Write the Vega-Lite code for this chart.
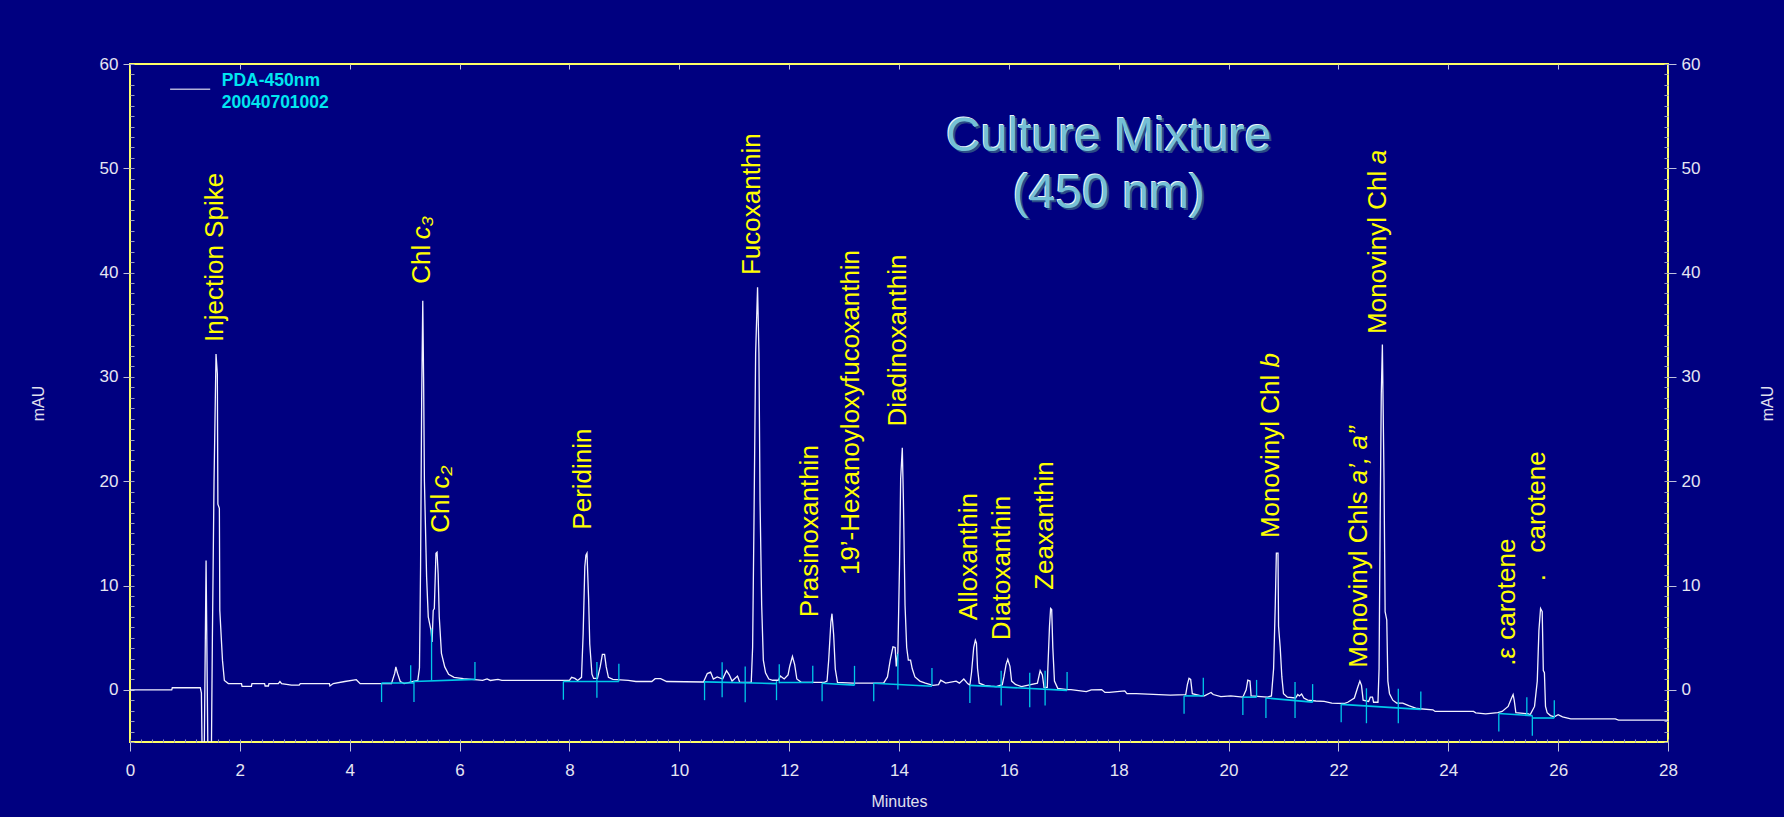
{
  "$schema": "https://vega.github.io/schema/vega-lite/v6.json",
  "width": 1538,
  "height": 678,
  "autosize": {"type": "none"},
  "padding": {"left": 130, "top": 64, "right": 116, "bottom": 75},
  "background": "#000080",
  "config": {
    "view": {"stroke": "#FFFF66", "strokeWidth": 2},
    "axis": {"grid": false, "domain": false, "labelFont": "Liberation Sans", "labelFontSize": 17, "labelColor": "#E6E6F2", "labelFlush": false, "tickColor": "#BFC0DC", "tickWidth": 1, "titleFont": "Liberation Sans", "titleFontSize": 16, "titleFontWeight": "normal", "titleColor": "#E0E0EE"},
    "text": {"font": "Liberation Sans"}
  },
  "datasets": {
    "trace": [
      {"min":0,"mAU":0},{"min":0.76,"mAU":0},{"min":0.77,"mAU":0.2},{"min":1.28,"mAU":0.2},{"min":1.3,"mAU":-0.3},{"min":1.315,"mAU":-7},{"min":1.35,"mAU":-7},{"min":1.385,"mAU":12.4},{"min":1.42,"mAU":-7},{"min":1.48,"mAU":-7},{"min":1.5,"mAU":5},{"min":1.53,"mAU":20},{"min":1.566,"mAU":32.2},{"min":1.59,"mAU":30.3},{"min":1.6,"mAU":17.8},{"min":1.627,"mAU":17.4},{"min":1.635,"mAU":7.6},{"min":1.684,"mAU":2.8},{"min":1.718,"mAU":0.9},{"min":1.79,"mAU":0.6},
      {"min":2.03,"mAU":0.6},{"min":2.04,"mAU":0.33},{"min":2.21,"mAU":0.33},{"min":2.22,"mAU":0.6},{"min":2.45,"mAU":0.6},{"min":2.46,"mAU":0.37},{"min":2.52,"mAU":0.37},{"min":2.53,"mAU":0.6},{"min":2.7,"mAU":0.6},{"min":2.73,"mAU":0.8},{"min":2.76,"mAU":0.6},{"min":2.94,"mAU":0.45},{"min":3.08,"mAU":0.45},{"min":3.1,"mAU":0.6},{"min":3.36,"mAU":0.6},{"min":3.63,"mAU":0.6},{"min":3.64,"mAU":0.37},{"min":3.7,"mAU":0.6},{"min":3.91,"mAU":0.8},{"min":4.12,"mAU":0.97},{"min":4.19,"mAU":0.6},{"min":4.76,"mAU":0.6},{"min":4.82,"mAU":1.6},{"min":4.84,"mAU":2.2},{"min":4.87,"mAU":1.6},{"min":4.92,"mAU":0.8},{"min":4.99,"mAU":0.6},
      {"min":5.24,"mAU":0.9},{"min":5.27,"mAU":2.1},{"min":5.29,"mAU":11.8},{"min":5.31,"mAU":27.8},{"min":5.33,"mAU":37.3},{"min":5.345,"mAU":30},{"min":5.36,"mAU":20},{"min":5.4,"mAU":10.8},{"min":5.43,"mAU":7},{"min":5.48,"mAU":5.7},{"min":5.5,"mAU":4.6},{"min":5.52,"mAU":7.6},{"min":5.54,"mAU":7.8},{"min":5.57,"mAU":13.1},{"min":5.59,"mAU":13.2},{"min":5.61,"mAU":11.1},{"min":5.63,"mAU":7},{"min":5.67,"mAU":3.5},{"min":5.73,"mAU":2.2},{"min":5.8,"mAU":1.5},{"min":5.9,"mAU":1.2},{"min":6.07,"mAU":1.07},{"min":6.42,"mAU":0.9},{"min":6.5,"mAU":1.05},{"min":6.56,"mAU":0.9},{"min":6.7,"mAU":1},{"min":6.77,"mAU":0.9},
      {"min":8,"mAU":0.9},{"min":8.04,"mAU":1.2},{"min":8.1,"mAU":1.1},{"min":8.15,"mAU":0.9},{"min":8.22,"mAU":1.2},{"min":8.25,"mAU":5.4},{"min":8.28,"mAU":11.8},{"min":8.3,"mAU":12.9},{"min":8.32,"mAU":13.1},{"min":8.35,"mAU":8.6},{"min":8.37,"mAU":4.4},{"min":8.41,"mAU":1.5},{"min":8.44,"mAU":1.1},{"min":8.51,"mAU":1.1},{"min":8.56,"mAU":2.2},{"min":8.6,"mAU":3.4},{"min":8.64,"mAU":3.4},{"min":8.67,"mAU":2.2},{"min":8.71,"mAU":1.2},{"min":8.79,"mAU":1},{"min":9.07,"mAU":0.9},{"min":9.21,"mAU":0.8},{"min":9.5,"mAU":0.8},{"min":9.56,"mAU":1.07},{"min":9.66,"mAU":1.07},{"min":9.77,"mAU":0.8},
      {"min":10.44,"mAU":0.75},{"min":10.51,"mAU":1.56},{"min":10.57,"mAU":1.7},{"min":10.62,"mAU":1.04},{"min":10.69,"mAU":1.24},{"min":10.79,"mAU":1.04},{"min":10.86,"mAU":1.84},{"min":10.91,"mAU":1.44},{"min":10.96,"mAU":0.84},{"min":11.06,"mAU":1.32},{"min":11.1,"mAU":0.72},{"min":11.31,"mAU":0.72},{"min":11.335,"mAU":4.06},{"min":11.36,"mAU":16.2},{"min":11.39,"mAU":32.3},{"min":11.425,"mAU":38.6},{"min":11.45,"mAU":32.3},{"min":11.47,"mAU":18.2},{"min":11.5,"mAU":8.1},{"min":11.53,"mAU":2.85},{"min":11.57,"mAU":1.64},{"min":11.63,"mAU":1.04},{"min":11.7,"mAU":0.92},{"min":11.8,"mAU":0.92},
      {"min":11.84,"mAU":1.32},{"min":11.91,"mAU":1.04},{"min":11.98,"mAU":1.44},{"min":12.01,"mAU":2.24},{"min":12.06,"mAU":3.2},{"min":12.1,"mAU":2.45},{"min":12.14,"mAU":1.04},{"min":12.22,"mAU":0.72},{"min":12.64,"mAU":0.72},{"min":12.69,"mAU":0.84},{"min":12.72,"mAU":2.85},{"min":12.76,"mAU":6.5},{"min":12.78,"mAU":7.3},{"min":12.81,"mAU":5.3},{"min":12.84,"mAU":2},{"min":12.88,"mAU":0.72},{"min":13.16,"mAU":0.64},{"min":13.72,"mAU":0.64},
      {"min":13.79,"mAU":1.24},{"min":13.84,"mAU":2.85},{"min":13.89,"mAU":4.13},{"min":13.93,"mAU":4.06},{"min":13.95,"mAU":2.25},{"min":13.98,"mAU":3.65},{"min":14.01,"mAU":12.1},{"min":14.03,"mAU":20.2},{"min":14.06,"mAU":23.2},{"min":14.08,"mAU":18.2},{"min":14.11,"mAU":8.1},{"min":14.14,"mAU":4.06},{"min":14.17,"mAU":2.85},{"min":14.21,"mAU":2.85},{"min":14.24,"mAU":2.04},{"min":14.29,"mAU":1.24},{"min":14.38,"mAU":0.84},{"min":14.48,"mAU":0.64},{"min":14.62,"mAU":0.43},{"min":14.72,"mAU":0.5},{"min":14.76,"mAU":0.92},{"min":14.85,"mAU":0.64},{"min":15.04,"mAU":0.84},{"min":15.1,"mAU":0.64},{"min":15.18,"mAU":1.04},{"min":15.25,"mAU":0.6},{"min":15.29,"mAU":0.43},
      {"min":15.32,"mAU":1.64},{"min":15.36,"mAU":4.06},{"min":15.39,"mAU":4.75},{"min":15.41,"mAU":4.48},{"min":15.43,"mAU":2.04},{"min":15.46,"mAU":0.64},{"min":15.56,"mAU":0.43},{"min":15.67,"mAU":0.35},{"min":15.77,"mAU":0.31},{"min":15.88,"mAU":0.5},{"min":15.91,"mAU":1.24},{"min":15.95,"mAU":2.45},{"min":15.98,"mAU":2.93},{"min":16.02,"mAU":2.25},{"min":16.05,"mAU":0.84},{"min":16.12,"mAU":0.52},{"min":16.23,"mAU":0.31},{"min":16.52,"mAU":0.64},{"min":16.57,"mAU":1.84},{"min":16.61,"mAU":1.44},{"min":16.64,"mAU":0.23},{"min":16.7,"mAU":0.23},{"min":16.71,"mAU":2.04},{"min":16.74,"mAU":6.1},{"min":16.76,"mAU":7.8},{"min":16.78,"mAU":7.7},{"min":16.8,"mAU":4.06},{"min":16.83,"mAU":0.84},{"min":16.89,"mAU":0.15},{"min":17.06,"mAU":0.03},
      {"min":17.13,"mAU":0.03},{"min":17.41,"mAU":-0.17},{"min":17.5,"mAU":0},{"min":17.69,"mAU":0.03},{"min":17.75,"mAU":-0.25},{"min":17.83,"mAU":-0.25},{"min":18.11,"mAU":-0.1},{"min":18.15,"mAU":-0.37},{"min":18.32,"mAU":-0.37},{"min":18.94,"mAU":-0.5},{"min":19.22,"mAU":-0.45},{"min":19.25,"mAU":0.5},{"min":19.28,"mAU":1.1},{"min":19.31,"mAU":1},{"min":19.34,"mAU":-0.37},{"min":19.5,"mAU":-0.58},{"min":19.56,"mAU":-0.58},{"min":19.68,"mAU":-0.25},{"min":19.72,"mAU":-0.45},{"min":19.86,"mAU":-0.65},{"min":20.04,"mAU":-0.58},{"min":20.26,"mAU":-0.7},{"min":20.32,"mAU":0},{"min":20.35,"mAU":0.92},{"min":20.39,"mAU":0.84},{"min":20.41,"mAU":-0.58},{"min":20.71,"mAU":-0.7},
      {"min":20.78,"mAU":-0.58},{"min":20.82,"mAU":2.04},{"min":20.85,"mAU":8.1},{"min":20.87,"mAU":13.1},{"min":20.9,"mAU":13.1},{"min":20.91,"mAU":6.1},{"min":20.94,"mAU":4.06},{"min":20.97,"mAU":1.24},{"min":21,"mAU":-0.37},{"min":21.07,"mAU":-0.7},{"min":21.22,"mAU":-0.78},{"min":21.26,"mAU":-0.45},{"min":21.29,"mAU":-0.58},{"min":21.33,"mAU":-0.4},{"min":21.37,"mAU":-0.78},{"min":21.44,"mAU":-0.99},{"min":21.59,"mAU":-1.07},{"min":21.74,"mAU":-1.11},{"min":21.88,"mAU":-1.27},{"min":22.1,"mAU":-1.31},{"min":22.17,"mAU":-1.19},
      {"min":22.29,"mAU":-0.78},{"min":22.35,"mAU":0.23},{"min":22.39,"mAU":0.84},{"min":22.42,"mAU":0.43},{"min":22.45,"mAU":-0.99},{"min":22.55,"mAU":-1.11},{"min":22.58,"mAU":-0.7},{"min":22.62,"mAU":-0.7},{"min":22.64,"mAU":-1.19},{"min":22.72,"mAU":-1.19},{"min":22.74,"mAU":2.04},{"min":22.76,"mAU":16.2},{"min":22.78,"mAU":28.3},{"min":22.8,"mAU":33.1},{"min":22.83,"mAU":20.2},{"min":22.85,"mAU":7.5},{"min":22.88,"mAU":6.7},{"min":22.9,"mAU":0.84},{"min":22.93,"mAU":-0.37},{"min":22.99,"mAU":-0.99},{"min":23.06,"mAU":-1.27},{"min":23.17,"mAU":-1.27},{"min":23.28,"mAU":-1.51},{"min":23.43,"mAU":-1.79},{"min":23.72,"mAU":-1.91},{"min":23.76,"mAU":-2.07},{"min":24.46,"mAU":-2.07},{"min":24.5,"mAU":-2.2},{"min":24.68,"mAU":-2.31},{"min":24.9,"mAU":-2.19},
      {"min":24.98,"mAU":-2.07},{"min":25.09,"mAU":-1.59},{"min":25.15,"mAU":-0.8},{"min":25.18,"mAU":-0.45},{"min":25.2,"mAU":-0.99},{"min":25.23,"mAU":-2.19},{"min":25.46,"mAU":-2.31},{"min":25.49,"mAU":-2.39},{"min":25.57,"mAU":-1.59},{"min":25.62,"mAU":0.84},{"min":25.65,"mAU":5.7},{"min":25.68,"mAU":7.8},{"min":25.71,"mAU":7.5},{"min":25.73,"mAU":1.84},{"min":25.75,"mAU":1.64},{"min":25.77,"mAU":-1.59},{"min":25.8,"mAU":-2.19},{"min":25.86,"mAU":-2.47},{"min":25.93,"mAU":-2.59},{"min":26,"mAU":-2.39},{"min":26.08,"mAU":-2.59},{"min":26.23,"mAU":-2.79},{"min":27.04,"mAU":-2.79},{"min":27.1,"mAU":-2.9},{"min":28,"mAU":-2.9}
    ],
    "baselines": [
      {"x":4.58,"y":0.65,"x2":5.17,"y2":0.65},{"x":5.17,"y":0.8,"x2":6.28,"y2":1.0},{"x":7.89,"y":0.8,"x2":8.9,"y2":0.8},{"x":10.46,"y":0.76,"x2":11.77,"y2":0.6},{"x":11.82,"y":0.7,"x2":12.43,"y2":0.7},{"x":12.6,"y":0.63,"x2":13.19,"y2":0.45},{"x":13.54,"y":0.63,"x2":14.6,"y2":0.35},{"x":15.29,"y":0.43,"x2":17.06,"y2":-0.05},{"x":19.19,"y":-0.58,"x2":19.54,"y2":-0.58},{"x":20.26,"y":-0.7,"x2":20.51,"y2":-0.7},{"x":20.68,"y":-0.78,"x2":21.53,"y2":-1.18},{"x":22.05,"y":-1.39,"x2":23.5,"y2":-1.87},{"x":24.92,"y":-2.27,"x2":25.53,"y2":-2.47},{"x":25.53,"y":-2.7,"x2":25.93,"y2":-2.7}
    ],
    "marks": [
      {"x":4.58,"y":0.65,"y2":-1.17},{"x":5.11,"y":2.35,"y2":0.65},{"x":5.17,"y":0.9,"y2":-1.17},{"x":5.49,"y":5.86,"y2":0.9},{"x":6.28,"y":2.67,"y2":0.97},{"x":7.89,"y":0.8,"y2":-0.95},{"x":8.5,"y":2.67,"y2":-0.75},{"x":8.9,"y":2.5,"y2":0.8},
      {"x":10.46,"y":0.84,"y2":-0.99},{"x":10.78,"y":2.65,"y2":-0.7},{"x":11.2,"y":2.25,"y2":-1.2},{"x":11.77,"y":0.84,"y2":-0.99},{"x":11.82,"y":2.45,"y2":0.63},{"x":12.43,"y":2.3,"y2":0.63},{"x":12.6,"y":0.63,"y2":-1.1},{"x":13.19,"y":2.3,"y2":0.43},{"x":13.54,"y":0.63,"y2":-1.1},{"x":13.98,"y":3.45,"y2":0.03},{"x":14.6,"y":2.1,"y2":0.43},{"x":15.29,"y":0.43,"y2":-1.27},{"x":15.86,"y":1.84,"y2":-1.5},{"x":16.38,"y":1.64,"y2":-1.67},{"x":16.66,"y":1.84,"y2":-1.5},{"x":17.06,"y":1.72,"y2":0.03},
      {"x":19.19,"y":-0.58,"y2":-2.3},{"x":19.54,"y":1.16,"y2":-0.58},{"x":20.26,"y":-0.7,"y2":-2.4},{"x":20.51,"y":0.95,"y2":-0.7},{"x":20.68,"y":-0.78,"y2":-2.7},{"x":21.21,"y":0.76,"y2":-2.7},{"x":21.53,"y":0.55,"y2":-1.2},{"x":22.05,"y":-1.39,"y2":-3.1},{"x":22.51,"y":0.15,"y2":-3.2},{"x":23.09,"y":0.1,"y2":-3.2},{"x":23.5,"y":-0.17,"y2":-1.87},{"x":24.92,"y":-2.27,"y2":-4.0},{"x":25.43,"y":-0.7,"y2":-2.47},{"x":25.53,"y":-2.47,"y2":-4.4},{"x":25.93,"y":-0.99,"y2":-2.7}
    ],
    "labels": [
      {"text":"Injection Spike","x":1.54,"y":33.35},
      {"text":"Chl","x":5.31,"y":38.94},
      {"text":"Chl","x":5.66,"y":15.07},
      {"text":"Peridinin","x":8.25,"y":15.36},
      {"text":"Fucoxanthin","x":11.33,"y":39.77},
      {"text":"Prasinoxanthin","x":12.38,"y":6.97},
      {"text":"19’-Hexanoyloxyfucoxanthin","x":13.13,"y":11.0},
      {"text":"Diadinoxanthin","x":13.98,"y":25.24},
      {"text":"Alloxanthin","x":15.28,"y":6.68},
      {"text":"Diatoxanthin","x":15.88,"y":4.75},
      {"text":"Zeaxanthin","x":16.66,"y":9.59},
      {"text":"Monovinyl Chl","x":20.77,"y":14.55},
      {"text":"Monovinyl Chls","x":22.37,"y":2.13},
      {"text":"Monovinyl Chl","x":22.72,"y":34.12},
      {"text":".ε carotene","x":25.07,"y":2.3},
      {"text":".\u00a0\u00a0\u00a0carotene","x":25.62,"y":10.4}
    ],
    "labels_italic": [
      {"text":"c₃","x":5.31,"y":43.2},
      {"text":"c₂","x":5.66,"y":19.3},
      {"text":"b","x":20.77,"y":30.9},
      {"text":"a’, a”","x":22.37,"y":19.72},
      {"text":"a","x":22.72,"y":50.4}
    ],
    "title": [
      {"text":"Culture Mixture","x":17.82,"y":51.68},
      {"text":"(450 nm)","x":17.82,"y":46.23}
    ],
    "legend_line": [{"x":0.73,"x2":1.46,"y":57.57}],
    "legend_text": [
      {"text":"PDA-450nm","x":1.67,"y":57.93},
      {"text":"20040701002","x":1.67,"y":55.78}
    ]
  },
  "layer": [
    {
      "data": {"name": "trace"},
      "mark": {"type": "line", "stroke": "#F2F2FF", "strokeWidth": 1.3, "clip": true, "interpolate": "linear"},
      "encoding": {
        "x": {"field": "min", "type": "quantitative", "scale": {"domain": [0, 28], "nice": false, "zero": false},
              "axis": {"orient": "bottom", "tickCount": 14, "tickSize": 9, "labelPadding": 11, "title": "Minutes", "titleX": 769, "titleY": 59, "titleAlign": "center", "titleBaseline": "middle"}},
        "y": {"field": "mAU", "type": "quantitative", "scale": {"domain": [-5, 60], "nice": false, "zero": false},
              "axis": {"orient": "left", "values": [0, 10, 20, 30, 40, 50, 60], "tickSize": 7, "labelPadding": 5, "title": "mAU", "titleX": -92, "titleY": 339, "titleAngle": 270, "titleAlign": "center", "titleBaseline": "middle"}}
      }
    },
    {
      "data": {"name": "baselines"},
      "mark": {"type": "rule", "stroke": "#00C8E8", "strokeWidth": 1.6},
      "encoding": {
        "x": {"field": "x", "type": "quantitative", "scale": {"domain": [0, 28], "nice": false, "zero": false},
              "axis": {"orient": "bottom", "tickCount": 140, "tickSize": -3, "labels": false, "title": null, "tickColor": "#9A9AC0"}},
        "y": {"field": "y", "type": "quantitative", "scale": {"domain": [-5, 60], "nice": false, "zero": false},
              "axis": {"orient": "right", "values": [0, 10, 20, 30, 40, 50, 60], "tickSize": 8, "labelPadding": 5, "title": "mAU", "titleX": 99, "titleY": 339, "titleAngle": 270, "titleAlign": "center", "titleBaseline": "middle"}},
        "x2": {"field": "x2"},
        "y2": {"field": "y2"}
      }
    },
    {
      "data": {"name": "marks"},
      "mark": {"type": "rule", "stroke": "#00C8E8", "strokeWidth": 1.3},
      "encoding": {
        "x": {"field": "x", "type": "quantitative", "scale": {"domain": [0, 28], "nice": false, "zero": false},
              "axis": {"orient": "top", "tickCount": 14, "tickSize": -5, "labels": false, "title": null}},
        "y": {"field": "y", "type": "quantitative", "scale": {"domain": [-5, 60], "nice": false, "zero": false},
              "axis": {"orient": "left", "tickCount": 65, "tickSize": -4, "labels": false, "title": null, "tickColor": "#9A9AC0"}},
        "y2": {"field": "y2"}
      }
    },
    {
      "data": {"name": "labels"},
      "mark": {"type": "text", "angle": 270, "align": "left", "baseline": "middle", "fontSize": 26, "fill": "#FFFF00", "font": "Liberation Sans"},
      "encoding": {
        "x": {"field": "x", "type": "quantitative", "axis": null},
        "y": {"field": "y", "type": "quantitative",
              "axis": {"orient": "right", "tickCount": 65, "tickSize": -4, "labels": false, "title": null, "tickColor": "#9A9AC0"}},
        "text": {"field": "text"}
      }
    },
    {
      "data": {"name": "labels_italic"},
      "mark": {"type": "text", "angle": 270, "align": "left", "baseline": "middle", "fontSize": 26, "fontStyle": "italic", "fill": "#FFFF00", "font": "Liberation Sans"},
      "encoding": {
        "x": {"field": "x", "type": "quantitative", "axis": null},
        "y": {"field": "y", "type": "quantitative", "axis": null},
        "text": {"field": "text"}
      }
    },
    {
      "data": {"name": "title"},
      "mark": {"type": "text", "align": "center", "baseline": "alphabetic", "fontSize": 48, "fill": "#E8F6FA", "dx": -1, "dy": -1, "font": "Liberation Sans"},
      "encoding": {
        "x": {"field": "x", "type": "quantitative", "axis": null},
        "y": {"field": "y", "type": "quantitative", "axis": null},
        "text": {"field": "text"}
      }
    },
    {
      "data": {"name": "title"},
      "mark": {"type": "text", "align": "center", "baseline": "alphabetic", "fontSize": 48, "fill": "#2A4C86", "dx": 2, "dy": 2, "font": "Liberation Sans"},
      "encoding": {
        "x": {"field": "x", "type": "quantitative", "axis": null},
        "y": {"field": "y", "type": "quantitative", "axis": null},
        "text": {"field": "text"}
      }
    },
    {
      "data": {"name": "title"},
      "mark": {"type": "text", "align": "center", "baseline": "alphabetic", "fontSize": 48, "fill": "#74C0D6", "font": "Liberation Sans"},
      "encoding": {
        "x": {"field": "x", "type": "quantitative", "axis": null},
        "y": {"field": "y", "type": "quantitative", "axis": null},
        "text": {"field": "text"}
      }
    },
    {
      "data": {"name": "legend_line"},
      "mark": {"type": "rule", "stroke": "#B0B0D8", "strokeWidth": 1.5},
      "encoding": {
        "x": {"field": "x", "type": "quantitative", "axis": null},
        "x2": {"field": "x2"},
        "y": {"field": "y", "type": "quantitative", "axis": null}
      }
    },
    {
      "data": {"name": "legend_text"},
      "mark": {"type": "text", "align": "left", "baseline": "alphabetic", "fontSize": 17.5, "fontWeight": "bold", "fill": "#00E6F0", "font": "Liberation Sans"},
      "encoding": {
        "x": {"field": "x", "type": "quantitative", "axis": null},
        "y": {"field": "y", "type": "quantitative", "axis": null},
        "text": {"field": "text"}
      }
    }
  ],
  "resolve": {"axis": {"x": "independent", "y": "independent"}}
}
